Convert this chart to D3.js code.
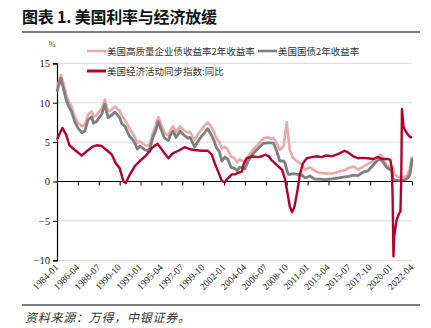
<!DOCTYPE html>
<html><head><meta charset="utf-8">
<script src="https://cdn.jsdelivr.net/npm/d3@7"></script>
<style>body{margin:0;background:#fff}svg{display:block}</style>
</head><body><svg id="c" width="431" height="328"></svg>
<script>
// ---- data ----
const tickLabels = ["1984-01","1986-04","1988-07","1990-10","1993-01","1995-04","1997-07","1999-10","2002-01","2004-04","2006-07","2008-10","2011-01","2013-04","2015-07","2017-10","2020-01","2022-04"];
const yTicks = [15,10,5,0,-5,-10];
const seriesNames = ["美国高质量企业债收益率2年收益率","美国国债2年收益率","美国经济活动同步指数:同比"];

const rateDates = ["1984-01","1984-06","1984-10","1985-01","1985-04","1985-08","1985-12","1986-04","1986-09","1987-01","1987-05","1987-10","1987-12","1988-04","1988-11","1989-03","1989-07","1989-10","1990-04","1990-10","1991-01","1991-05","1991-11","1992-03","1992-06","1992-09","1992-12","1993-07","1993-10","1994-01","1994-05","1994-08","1994-12","1995-04","1995-08","1996-01","1996-04","1996-07","1996-11","1997-04","1997-09","1998-02","1998-05","1998-11","1999-06","1999-12","2000-04","2000-08","2000-12","2001-03","2001-07","2001-10","2002-02","2002-06","2002-10","2003-02","2003-06","2003-09","2004-01","2004-04","2004-08","2005-02","2005-09","2006-04","2006-10","2007-02","2007-05","2007-09","2008-01","2008-06","2008-08","2008-10","2008-12","2009-02","2009-06","2009-12","2010-04","2010-10","2011-04","2011-10","2012-04","2013-01","2013-10","2014-05","2015-01","2015-06","2016-01","2016-06","2017-01","2017-07","2018-01","2018-06","2018-11","2019-03","2019-07","2019-10","2020-02","2020-03","2020-05","2020-10","2021-06","2021-10","2022-01","2022-03","2022-04"];
const treasury2y = [11.4,13.1,11.5,10.3,9.6,8.8,7.6,6.8,6.2,6.4,7.8,8.2,7.4,7.6,8.6,9.8,8.1,8.3,8.8,8.1,7.3,7.0,5.7,5.3,4.8,4.1,4.5,4.0,3.9,4.2,5.6,6.3,7.6,6.5,5.5,5.2,6.0,6.4,5.6,6.4,5.9,5.5,5.6,4.4,5.5,6.2,6.7,6.0,5.2,4.3,3.8,2.6,3.1,2.8,1.8,1.7,1.4,1.8,1.8,1.6,2.6,3.5,4.2,4.85,4.9,4.9,4.85,3.9,2.6,2.6,2.3,1.5,0.9,0.9,1.0,0.9,0.9,0.45,0.7,0.3,0.3,0.25,0.35,0.45,0.6,0.65,0.8,0.75,1.2,1.35,2.0,2.55,2.85,2.4,1.8,1.6,1.3,0.4,0.2,0.15,0.2,0.4,0.8,1.9,2.95];
const corp2y = [11.8,13.5,12.2,11.0,10.2,9.5,8.2,7.5,7.0,7.2,8.5,8.9,8.2,8.4,9.3,10.4,8.9,9.0,9.5,9.0,8.3,7.8,6.7,6.1,5.5,4.9,5.1,4.6,4.5,4.8,6.2,6.9,8.2,7.2,6.2,5.8,6.6,7.0,6.3,7.0,6.5,6.2,6.3,5.3,6.4,7.1,7.5,7.0,6.3,5.5,5.0,4.2,4.4,4.0,3.2,3.0,2.4,2.8,2.6,2.5,3.1,4.0,4.7,5.5,5.6,5.4,5.5,4.9,4.0,4.5,6.1,7.5,5.6,4.0,3.0,2.5,2.3,1.5,1.8,1.4,1.1,1.0,1.05,1.25,1.45,1.7,1.9,1.5,1.9,2.25,2.5,3.0,3.4,2.95,2.1,1.9,1.6,1.9,0.9,0.6,0.55,0.85,1.5,2.6,3.2];

const activityDates = ["1984-01","1984-04","1984-08","1985-01","1985-05","1985-12","1986-09","1987-03","1987-10","1988-04","1988-11","1989-05","1989-12","1990-05","1990-10","1991-03","1991-06","1991-11","1992-06","1992-12","1993-07","1994-01","1994-03","1994-11","1995-06","1996-01","1996-07","1997-02","1997-10","1998-05","1998-11","1999-08","2000-04","2000-09","2001-01","2001-06","2001-10","2002-02","2002-06","2002-11","2003-03","2003-07","2003-12","2004-02","2004-06","2005-01","2005-09","2006-02","2006-06","2006-11","2007-02","2007-07","2007-11","2008-04","2008-08","2008-11","2009-02","2009-05","2009-08","2009-12","2010-03","2010-07","2010-12","2011-06","2012-01","2012-07","2013-01","2013-08","2014-05","2015-01","2015-05","2015-12","2016-06","2016-12","2017-07","2018-01","2018-08","2019-02","2019-09","2019-12","2020-02","2020-03","2020-04","2020-05","2020-08","2020-11","2021-01","2021-02","2021-03","2021-05","2021-07","2021-09","2021-12","2022-02","2022-04"];
const activityYoY = [5.3,6.0,6.8,5.9,4.6,4.0,3.3,3.8,4.35,4.6,4.5,4.0,3.4,2.3,1.7,0.0,-0.2,0.85,2.0,2.6,3.2,3.85,4.2,4.8,3.85,2.95,3.6,3.9,4.35,4.1,4.0,3.9,3.9,3.4,2.3,1.1,0.1,-0.1,0.4,0.9,0.9,1.1,1.25,2.1,2.95,3.2,3.1,3.2,3.4,3.2,2.75,2.3,1.9,1.5,0.2,-1.5,-3.2,-3.9,-3.2,-1.05,0.85,2.3,2.95,3.1,3.2,3.1,3.3,3.2,3.5,3.9,3.7,3.2,2.95,3.0,2.95,2.85,3.1,2.85,2.85,2.75,1.5,-2.3,-9.5,-7.0,-4.9,-4.1,-3.8,0.2,9.2,7.0,6.5,6.2,5.8,5.6,5.7];

// ---- drawing ----
const svg = d3.select("#c");
const parse = d3.timeParse("%Y-%m");
const serif = "'Liberation Serif','Times New Roman',serif";
const cjk = "'Noto Sans CJK SC','Noto Sans',sans-serif";
const colors = ["#EDA8AA","#7F7F7F","#B3002D"];

const x = d3.scaleTime().domain([parse("1984-01"), parse("2022-04")]).range([57, 412]);
const y = d3.scaleLinear().domain([-10, 15]).range([260.3, 63.3]);

// title
svg.append("text").attr("x",22).attr("y",23).attr("font-family",cjk).attr("font-weight","bold")
  .attr("font-size",16).attr("fill","#111").attr("textLength",195).attr("lengthAdjust","spacing")
  .text("图表 1. 美国利率与经济放缓");
svg.append("line").attr("x1",22).attr("x2",420).attr("y1",32).attr("y2",32).attr("stroke","#555").attr("stroke-width",1.5);

// gridlines
svg.append("g").selectAll("line").data(yTicks.filter(d=>d!==0)).join("line")
  .attr("x1",57).attr("x2",412).attr("y1",d=>y(d)).attr("y2",d=>y(d))
  .attr("stroke","#d9d9d9").attr("stroke-width",1);

// y axis
const yAxis = svg.append("g").attr("transform","translate(57,0)")
  .call(d3.axisLeft(y).tickValues(yTicks).tickSize(4).tickPadding(3).tickFormat(d3.format("d")));
yAxis.select(".domain").attr("stroke","#000").attr("stroke-width",1.2);
yAxis.selectAll("text").attr("font-family",serif).attr("font-size",10.5).attr("fill","#222");
yAxis.selectAll(".tick line").attr("stroke","#000");

svg.append("text").attr("x",52).attr("y",47).attr("font-family",serif).attr("font-size",8).attr("fill","#444").attr("text-anchor","middle").text("%");

// lines
const line = d3.line().x(d=>x(d[0])).y(d=>y(d[1])).curve(d3.curveLinear);
const corpData = rateDates.map((d,i)=>[parse(d), corp2y[i]]);
const tsyData = rateDates.map((d,i)=>[parse(d), treasury2y[i]]);
const actData = activityDates.map((d,i)=>[parse(d), activityYoY[i]]);

// x axis at zero
const xAxis = svg.append("g").attr("transform",`translate(0,${y(0)})`)
  .call(d3.axisBottom(x).tickValues(tickLabels.map(parse)).tickSize(4).tickFormat(""));
xAxis.select(".domain").attr("stroke","#000").attr("stroke-width",1.2).attr("d",`M57,0H412`);
xAxis.selectAll(".tick line").attr("stroke","#000");

svg.append("path").datum(corpData).attr("d",line).attr("fill","none").attr("stroke",colors[0]).attr("stroke-width",2.6).attr("stroke-linejoin","round");
svg.append("path").datum(tsyData).attr("d",line).attr("fill","none").attr("stroke",colors[1]).attr("stroke-width",2.8).attr("stroke-linejoin","round");
svg.append("path").datum(actData).attr("d",line).attr("fill","none").attr("stroke",colors[2]).attr("stroke-width",2.4).attr("stroke-linejoin","round");

// x tick labels at bottom
svg.append("g").selectAll("text").data(tickLabels).join("text")
  .attr("transform",d=>`translate(${x(parse(d))+2},${268}) rotate(-45)`)
  .attr("text-anchor","end").attr("font-family",serif).attr("font-size",9.5).attr("fill","#222")
  .text(d=>d);

// legend
const leg = [
  {i:0, x:87, y:51},
  {i:1, x:258, y:51},
  {i:2, x:87, y:71}
];
const lg = svg.append("g").attr("class","legend");
leg.forEach(l=>{
  lg.append("line").attr("x1",l.x).attr("x2",l.x+19).attr("y1",l.y).attr("y2",l.y)
    .attr("stroke",colors[l.i]).attr("stroke-width",l.i===2?3:2.6);
  lg.append("text").attr("x",l.x+20).attr("y",l.y+3.5).attr("font-family",cjk).attr("font-size",9.5)
    .attr("fill","#333").text(seriesNames[l.i]);
});

// footer
svg.append("line").attr("x1",22).attr("x2",420).attr("y1",305).attr("y2",305).attr("stroke","#555").attr("stroke-width",1.5);
svg.append("text").attr("x",25).attr("y",322).attr("font-family",cjk).attr("font-style","italic")
  .attr("font-size",12).attr("fill","#333").attr("textLength",165).attr("lengthAdjust","spacing")
  .text("资料来源：万得，中银证券。");
</script></body></html>
